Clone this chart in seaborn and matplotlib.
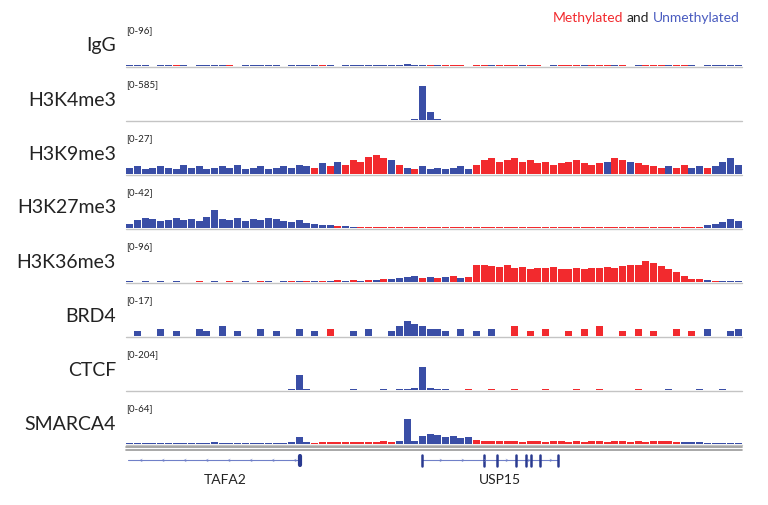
import numpy as np
import pandas as pd
import matplotlib
matplotlib.use("Agg")
import matplotlib.pyplot as plt
import seaborn as sns

sns.set_theme(style="white")
plt.rcParams['font.family'] = ['Lato', 'DejaVu Sans']

RED = "#f22a2e"
BLUE = "#3a4ea6"

tracks = ["IgG", "H3K4me3", "H3K9me3", "H3K27me3", "H3K36me3", "BRD4", "CTCF", "SMARCA4"]
ranges = [96, 585, 27, 42, 96, 17, 204, 64]

igg = [2,3,2,0,2,3,2,2,0,2,3,2,2,2,0,2,2,3,2,2,0,2,2,2,3,2,2,0,2,2,3,2,2,2,2,3,4,3,2,2,
       2,3,2,2,0,2,2,3,2,2,2,2,3,2,0,2,2,2,3,2,2,2,3,2,2,0,2,3,2,2,2,2,3,2,0,2,2,3,2,2]
igg_c = "UUUUUUMUUUUUUMUUUUUUUUUUUMUUUUUUUUUUUUUMUMMMUMMUMMMUMMMUMMMUMMMUMMUMMMUMMUMUUUUU"
k4 = [0]*36 + [3,20,470,110,10,0,0] + [0]*37
k4_c = "U"*80
k9 = [4,5,3,4,5,4,3,6,4,5,3,4,5,4,6,3,4,5,3,4,5,4,6,5,4,7,5,8,6,9,8,11,12,10,9,6,4,3,5,3,
      4,3,4,5,3,6,9,10,8,9,10,8,9,7,8,6,7,8,9,7,6,7,8,10,9,8,7,6,5,4,5,4,6,4,5,4,5,8,10,6]
k9_c = "UUUUUUUUUUUUUUUUUUUUUUUUMUMUMMMMMMUMUMUUUUUUUMMMMMMMMMMMMMMMMMUMMUMMMMUMMUUMUUUUU"
k27 = [4,8,10,9,7,8,10,8,9,7,11,18,9,8,10,7,9,8,10,9,7,6,8,5,4,3,3,2,2,1,1,1,1,1,1,1,1,1,1,1,
       1,1,1,1,1,1,1,1,1,1,1,1,1,1,1,1,1,1,1,1,1,1,1,1,1,1,1,1,1,1,1,1,1,1,1,3,4,6,9,7]
k27_c = "UUUUUUUUUUUUUUUUUUUUUUUUUUUMUUMMMMMMMMMMMMMMMMMMMMMMMMMMMMMMMMMMMMMMMMMMMMMUUUUU"
k36 = [2,1,2,1,2,1,2,1,1,2,1,2,1,2,1,2,1,2,2,1,2,3,2,2,3,2,3,4,3,4,3,5,4,6,8,10,12,14,10,12,
       9,11,13,10,12,38,40,36,34,38,32,35,30,33,31,34,30,29,32,30,33,31,34,32,36,38,40,48,44,36,
       30,24,14,8,6,4,3,3,2,2]
k36_c = "UUUUUMUUUMUUUMUUUMUUUMUMUMUMUMUMUMUUUUMUMUMUMMMMMMMMMMMMMMMMMMMMMMMMMMMMMMMUMUUU"
brd4 = [0,2,0,0,3,0,2,0,0,3,2,0,4,0,2,0,0,3,0,2,0,0,3,0,2,0,3,0,0,2,0,3,0,0,2,4,6,5,4,3,
        3,2,0,3,0,2,0,3,0,0,4,0,2,0,3,0,0,2,0,3,0,4,0,0,2,0,3,0,2,0,0,3,0,2,0,3,0,0,2,3]
brd4_c = "UUUUUUUUUUUUUUUUUUUUUUUUUUMUUUUUUUUUUUUUUUMUMUMUMMMMMMMMMMMMMMMMMMMMMMUMUMUUUUUU"
ctcf = [2,1,2,1,2,1,2,2,1,2,1,2,2,1,2,1,2,2,1,2,2,3,75,3,2,2,1,2,2,3,2,2,2,3,2,3,5,8,110,12,
        4,3,2,2,3,2,2,3,2,2,3,2,2,2,3,2,2,2,3,2,2,3,2,2,2,2,3,2,2,2,3,2,2,2,3,2,2,3,2,2]
ctcf_c = "UUUUUUUUUUUUUUUUUUUUUUUUUUUUUUUUUUUUUUUUUUMUMMMMMMMMMMMMMMMMMMMMMMMMMMUUMUUUUUUU"
smarca = [2,2,2,2,2,2,2,2,2,2,2,3,2,2,2,2,2,2,2,2,2,3,10,3,2,3,3,3,3,3,3,3,3,4,3,4,38,5,12,16,
          14,11,12,9,10,6,5,4,4,4,4,3,4,4,3,4,4,3,4,3,4,4,3,4,4,3,4,3,4,5,4,3,3,3,3,2,2,2,2,2]
smarca_c = "UUUUUUUUUUUUUUUUUUUUUUUUMMMMMMMMMMMUUUUUUUUUUMMMMMMMMMMMMMMMMMMMMMMMMMMMUUUUUUUU"

vals = [igg, k4, k9, k27, k36, brd4, ctcf, smarca]
cols = [igg_c, k4_c, k9_c, k27_c, k36_c, brd4_c, ctcf_c, smarca_c]
NB = 80

W, H = 768, 505
fig = plt.figure(figsize=(7.68, 5.05), dpi=100)
x0, x1 = 126, 742
baselines = [66, 120, 174, 228, 282, 336, 390, 444]
th = 42

for i, (name, rng, v, c) in enumerate(zip(tracks, ranges, vals, cols)):
    b = baselines[i]
    v = (list(v) + [0] * NB)[:NB]
    c = (c + c[-1] * NB)[:NB]
    ax = fig.add_axes([x0 / W, 1 - b / H, (x1 - x0) / W, th / H])
    df = pd.DataFrame({"x": np.arange(NB), "y": v,
                       "m": ["Methylated" if ch == "M" else "Unmethylated" for ch in c]})
    sns.barplot(data=df, x="x", y="y", hue="m", native_scale=True, dodge=False, width=0.92,
                palette={"Methylated": RED, "Unmethylated": BLUE}, legend=False,
                saturation=1, linewidth=0, ax=ax)
    ax.set_xlim(-0.5, NB - 0.5)
    ax.set_ylim(0, rng)
    ax.axis("off")
    fig.lines.append(plt.Line2D([x0 / W, x1 / W], [1 - (b + 0.5) / H] * 2,
                                transform=fig.transFigure, color="#c4c4c4", lw=1))
    fig.text(x0 / W, 1 - (b - 35) / H, f"[0-{rng}]", fontsize=7, color="#222222",
             va="center", ha="left")
    fig.text(116 / W, 1 - (b - 20) / H, name, fontsize=14, color="#222222",
             va="center", ha="right")

for yy in (447, 450):
    fig.lines.append(plt.Line2D([x0 / W, x1 / W], [1 - yy / H] * 2, transform=fig.transFigure,
                                color="#999999", lw=1.2))

gax = fig.add_axes([x0 / W, 1 - 470 / H, (x1 - x0) / W, 20 / H])
gax.set_xlim(x0, x1); gax.set_ylim(-1, 1); gax.axis("off")
gax.plot([128, 300], [0, 0], color="#7080c8", lw=0.8)
for xa in range(140, 300, 22):
    gax.text(xa, 0, "<", color="#7080c8", fontsize=5, va="center", ha="center")
gax.plot([300, 300], [-0.45, 0.45], color="#2a3a90", lw=3)
gax.plot([422, 558], [0, 0], color="#7080c8", lw=0.8)
for xa in range(440, 555, 22):
    gax.text(xa, 0, ">", color="#7080c8", fontsize=5, va="center", ha="center")
for xe in [422, 484, 497, 516, 526, 531, 540, 558]:
    gax.plot([xe, xe], [-0.55, 0.55], color="#2a3a90", lw=1.8)
fig.text(225 / W, 1 - 480 / H, "TAFA2", fontsize=10, ha="center", va="center", color="#222222")
fig.text(500 / W, 1 - 480 / H, "USP15", fontsize=10, ha="center", va="center", color="#222222")

t1 = fig.text(740 / W, 1 - 18 / H, "Unmethylated", color="#4a5cc0", fontsize=10, ha="right", va="center")
fig.canvas.draw()
bb = t1.get_window_extent()
t2 = fig.text(bb.x0 / W - 0.005, 1 - 18 / H, "and", color="#222222", fontsize=10, ha="right", va="center")
fig.canvas.draw()
bb2 = t2.get_window_extent()
fig.text(bb2.x0 / W - 0.005, 1 - 18 / H, "Methylated", color=RED, fontsize=10, ha="right", va="center")

fig.savefig("out.png", dpi=100)
